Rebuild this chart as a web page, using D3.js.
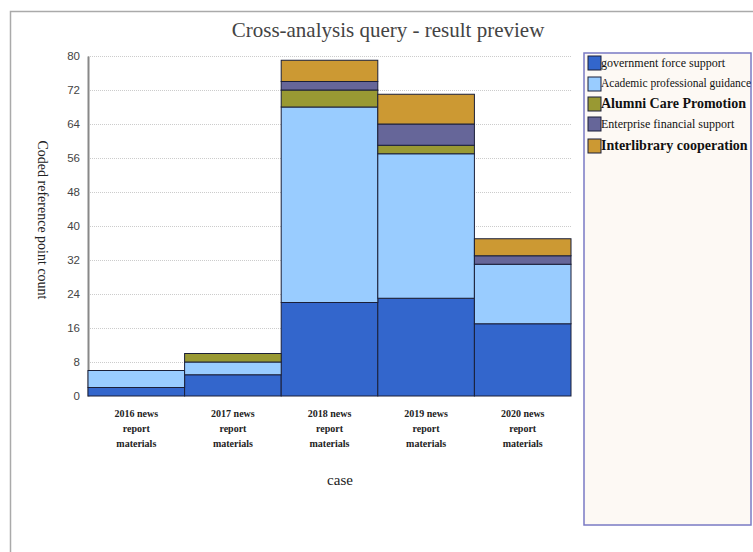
<!DOCTYPE html>
<html>
<head>
<meta charset="utf-8">
<script src="https://cdn.jsdelivr.net/npm/d3@7"></script>
<style>
  body { margin: 0; background: #fff; }
  svg { display: block; }
</style>
</head>
<body>
<svg id="chart" width="753" height="552"></svg>
<script>
// data
const cases = ["2016 news report materials", "2017 news report materials", "2018 news report materials",
               "2019 news report materials", "2020 news report materials"];
const seriesNames = ["government force support", "Academic professional guidance", "Alumni Care Promotion",
                     "Enterprise financial support", "Interlibrary cooperation"];
const govSupport = [2, 5, 22, 23, 17];
const academicGuidance = [4, 3, 46, 34, 14];
const alumniCare = [0, 2, 4, 2, 0];
const enterpriseSupport = [0, 0, 2, 5, 2];
const interlibrary = [0, 0, 5, 7, 4];
const yTicks = [0, 8, 16, 24, 32, 40, 48, 56, 64, 72, 80];

const colors = ["#3366cc", "#99ccff", "#999933", "#666699", "#cc9933"];
const legendStyle = [
  {size: 12, weight: "normal"},
  {size: 11.5, weight: "normal"},
  {size: 14, weight: "bold"},
  {size: 12, weight: "normal"},
  {size: 14, weight: "bold"}
];

const margin = {top: 56, left: 88, right: 182, bottom: 156};
const W = 753, H = 552;

const svg = d3.select("#chart");

const rows = cases.map((c, i) => ({
  case: c,
  s0: govSupport[i], s1: academicGuidance[i], s2: alumniCare[i], s3: enterpriseSupport[i], s4: interlibrary[i]
}));
const keys = ["s0", "s1", "s2", "s3", "s4"];
const stacked = d3.stack().keys(keys)(rows);

const x = d3.scaleBand().domain(cases).range([margin.left, W - margin.right]).padding(0);
const y = d3.scaleLinear().domain([0, 80]).range([H - margin.bottom, margin.top]);

// frame
svg.append("path")
  .attr("d", `M10.5,${H} V11.5 H${W}`)
  .attr("fill", "none")
  .attr("stroke", "#aaa")
  .attr("stroke-width", 1.5);

// title
svg.append("text")
  .attr("x", 388).attr("y", 37)
  .attr("text-anchor", "middle")
  .attr("font-family", "Liberation Serif, serif")
  .attr("font-size", 21)
  .attr("fill", "#444")
  .text("Cross-analysis query - result preview");

// grid
svg.append("g")
  .selectAll("line")
  .data(yTicks.filter(d => d > 0))
  .join("line")
  .attr("x1", margin.left).attr("x2", W - margin.right)
  .attr("y1", d => Math.round(y(d)) + 0.5).attr("y2", d => Math.round(y(d)) + 0.5)
  .attr("stroke", "#ccc")
  .attr("stroke-dasharray", "1,1");

// y axis
const yAxis = svg.append("g")
  .attr("transform", `translate(${margin.left},0)`)
  .call(d3.axisLeft(y).tickValues(yTicks).tickSize(0).tickPadding(8));
yAxis.select(".domain").attr("stroke", "#888").attr("stroke-width", 2);
yAxis.selectAll("text")
  .attr("font-family", "Liberation Sans, Arial, sans-serif")
  .attr("font-size", 11.5)
  .attr("fill", "#444");

// bars
svg.append("g")
  .selectAll("g")
  .data(stacked)
  .join("g")
  .attr("fill", (d, i) => colors[i])
  .selectAll("rect")
  .data(d => d.filter(p => p[1] > p[0]))
  .join("rect")
  .attr("x", d => x(d.data.case))
  .attr("y", d => y(d[1]))
  .attr("width", x.bandwidth())
  .attr("height", d => y(d[0]) - y(d[1]))
  .attr("stroke", "#1a1f38")
  .attr("stroke-width", 1);

// x labels
const xl = svg.append("g")
  .selectAll("text")
  .data(cases)
  .join("text")
  .attr("x", d => x(d) + x.bandwidth() / 2)
  .attr("y", 417)
  .attr("text-anchor", "middle")
  .attr("font-family", "Liberation Serif, serif")
  .attr("font-weight", "bold")
  .attr("font-size", 10)
  .attr("fill", "#222");
xl.each(function(d) {
  const words = d.split(" ");
  const lines = [words.slice(0, 2).join(" "), words[2], words[3]];
  d3.select(this).selectAll("tspan")
    .data(lines)
    .join("tspan")
    .attr("x", x(d) + x.bandwidth() / 2)
    .attr("dy", (l, i) => i === 0 ? 0 : 15)
    .text(l => l);
});

// axis titles
svg.append("text")
  .attr("x", 340).attr("y", 485)
  .attr("text-anchor", "middle")
  .attr("font-family", "Liberation Serif, serif")
  .attr("font-size", 15)
  .attr("fill", "#222")
  .text("case");

svg.append("text")
  .attr("transform", "translate(38,220) rotate(90)")
  .attr("text-anchor", "middle")
  .attr("font-family", "Liberation Serif, serif")
  .attr("font-size", 14)
  .attr("fill", "#222")
  .text("Coded reference point count");

// legend
const legend = svg.append("g");
legend.append("rect")
  .attr("x", 584).attr("y", 53)
  .attr("width", 167).attr("height", 472)
  .attr("fill", "#fdf9f4")
  .attr("stroke", "#7a7ac4")
  .attr("stroke-width", 1.5);

svg.append("clipPath").attr("id", "legclip")
  .append("rect").attr("x", 585).attr("y", 54).attr("width", 168).attr("height", 470);

const legendY = [63, 84, 104, 124, 146];
const items = legend.append("g").attr("clip-path", "url(#legclip)")
  .selectAll("g")
  .data(seriesNames)
  .join("g")
  .attr("transform", (d, i) => `translate(588,${legendY[i]})`);
items.append("rect")
  .attr("x", 0).attr("y", -7)
  .attr("width", 13).attr("height", 14)
  .attr("fill", (d, i) => colors[i])
  .attr("stroke", "#1a1f38");
items.append("text")
  .attr("x", 13).attr("y", 0)
  .attr("dy", "0.3em")
  .attr("font-family", "Liberation Serif, serif")
  .attr("font-size", (d, i) => legendStyle[i].size)
  .attr("font-weight", (d, i) => legendStyle[i].weight)
  .attr("fill", "#111")
  .text(d => d);
</script>
</body>
</html>
